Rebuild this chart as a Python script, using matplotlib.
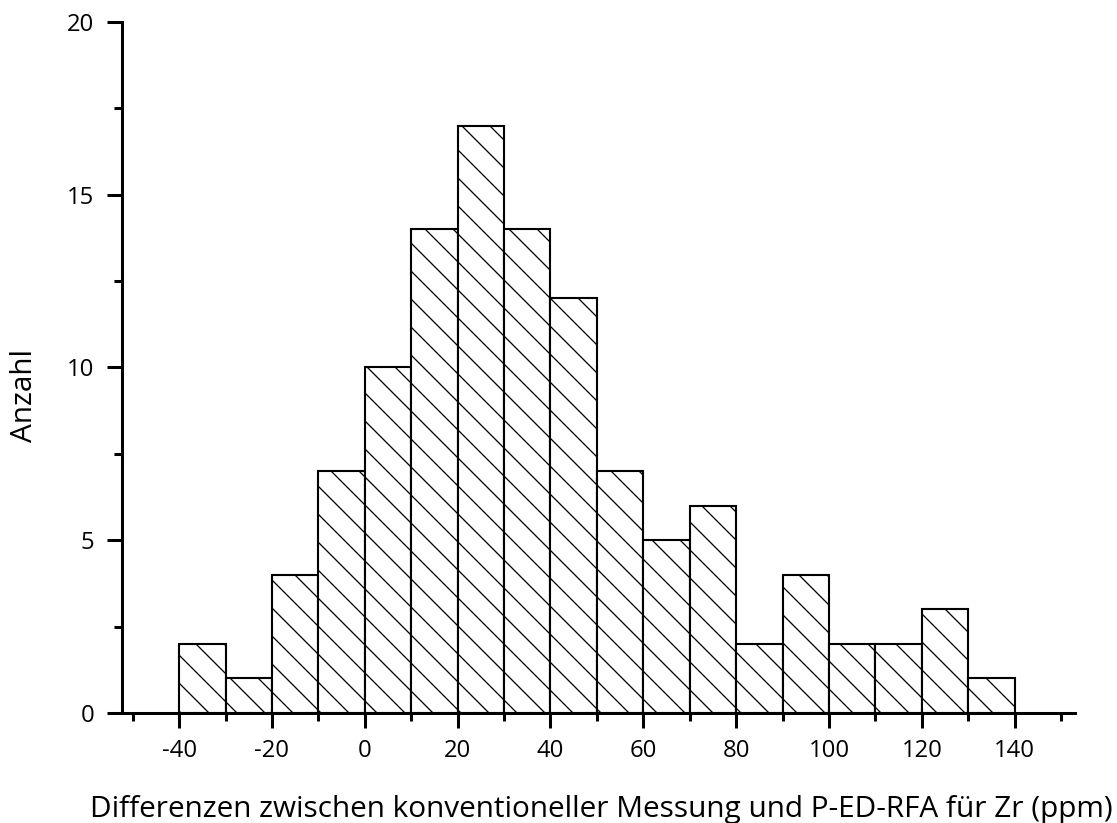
import matplotlib
matplotlib.use("Agg")
import matplotlib.pyplot as plt
from matplotlib.ticker import MultipleLocator

bin_left = [-40, -30, -20, -10, 0, 10, 20, 30, 40, 50, 60, 70, 80, 90, 100, 110, 120, 130]
counts = [2, 1, 4, 7, 10, 14, 17, 14, 12, 7, 5, 6, 2, 4, 2, 2, 3, 1]
bin_width = 10
xlabel = "Differenzen zwischen konventioneller Messung und P-ED-RFA für Zr (ppm)"
ylabel = "Anzahl"

DPI = 84
W, H = 1117, 823
plt.rcParams['font.family'] = ['Open Sans', 'DejaVu Sans']
plt.rcParams['axes.unicode_minus'] = False
plt.rcParams['hatch.linewidth'] = 1.1
plt.rcParams['hatch.color'] = 'black'

fig = plt.figure(figsize=(W / DPI, H / DPI), dpi=DPI)
ax = fig.add_axes([122 / W, 1 - 713 / H, (1075 - 122) / W, (713 - 22) / H])

ax.bar(bin_left, counts, width=bin_width, align='edge', facecolor='white',
       edgecolor='black', linewidth=1.8, hatch='\\')

ax.set_xlim(-52.3, 153)
ax.set_ylim(0, 20)
for s in ['top', 'right']:
    ax.spines[s].set_visible(False)
for s in ['left', 'bottom']:
    ax.spines[s].set_linewidth(2.6)

ax.xaxis.set_major_locator(MultipleLocator(20))
ax.xaxis.set_minor_locator(MultipleLocator(10))
ax.yaxis.set_major_locator(MultipleLocator(5))
ax.yaxis.set_minor_locator(MultipleLocator(2.5))
ax.tick_params(which='major', direction='out', length=13, width=2.6, labelsize=20.5)
ax.tick_params(axis='y', which='major', pad=11)
ax.tick_params(axis='x', which='major', pad=9)
ax.tick_params(which='minor', direction='out', length=7, width=2.6)

fig.text(601 / W, 1 - 817 / H, xlabel, fontsize=25.5, ha='center', va='baseline')
fig.text(25 / W, 1 - 396 / H, ylabel, fontsize=25.5, ha='center', va='center', rotation=90)

fig.savefig("out.png", dpi=DPI)
